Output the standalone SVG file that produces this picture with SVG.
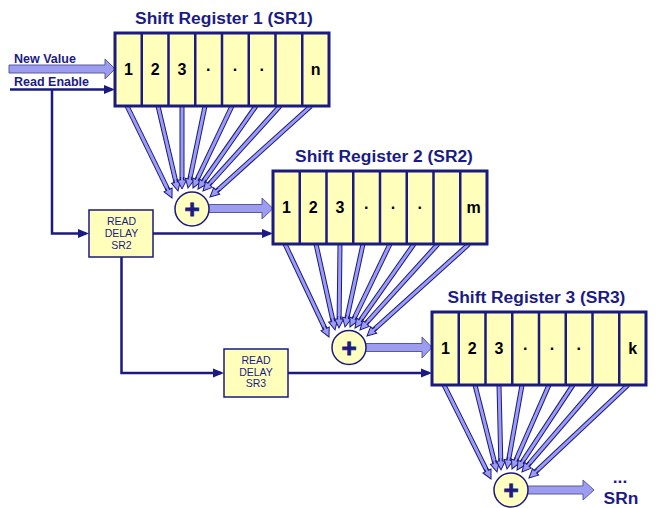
<svg xmlns="http://www.w3.org/2000/svg" xmlns:xlink="http://www.w3.org/1999/xlink" width="664" height="508" viewBox="0 0 664 508">
<defs>
<style>
.reg{fill:#ffffbb;stroke:#1a1a80;stroke-width:3}
.div{fill:none;stroke:#1a1a80;stroke-width:2.5}
.num{font-family:"Liberation Sans",Arial,sans-serif;font-weight:bold;font-size:16px;fill:#000;text-anchor:middle}
.title{font-family:"Liberation Sans",Arial,sans-serif;font-weight:bold;font-size:17.4px;fill:#1b1b87;text-anchor:middle}
.lbl{font-family:"Liberation Sans",Arial,sans-serif;font-weight:bold;font-size:12.5px;fill:#1b1b87}
.dl{font-family:"Liberation Sans",Arial,sans-serif;font-size:10.5px;fill:#1b1b87;text-anchor:middle}
.dbox{fill:#ffffbb;stroke:#1a1a80;stroke-width:1.5}
.wire{fill:none;stroke:#1a1a80;stroke-width:2.5;marker-end:url(#ah)}
.fo{stroke:#1a1a80;stroke-width:5;stroke-dasharray:94 100}
.fi{stroke:#9c9cf0;stroke-width:3;stroke-dasharray:94 100;marker-end:url(#fh)}
.fat{fill:#9c9cf0;stroke:#5a5a9a;stroke-width:1}
.sum{fill:#ffffc0;stroke:#1a1a80;stroke-width:1.5}
.plus{font-family:"Liberation Sans",Arial,sans-serif;font-weight:bold;font-size:26px;fill:#1a1a80;stroke:#1a1a80;stroke-width:0.8;text-anchor:middle}
</style>
<marker id="ah" markerUnits="userSpaceOnUse" orient="auto" refX="0" refY="0" markerWidth="1" markerHeight="1" overflow="visible">
<path d="M3,0 L-8,-4.5 L-8,4.5 Z" fill="#1a1a80"/>
</marker>
<marker id="fh" markerUnits="userSpaceOnUse" orient="auto" refX="0" refY="0" markerWidth="1" markerHeight="1" overflow="visible">
<path d="M-12,1.5 L-9,1.5 L-9,4.5 L0,0 L-9,-4.5 L-9,-1.5 L-12,-1.5" fill="#9c9cf0" stroke="#1a1a80" stroke-width="1"/>
</marker>
<line id="a11" x1="127" y1="106" x2="172" y2="198" pathLength="100"/>
<line id="a12" x1="158" y1="106" x2="178" y2="191" pathLength="100"/>
<line id="a13" x1="182" y1="106" x2="182" y2="189" pathLength="100"/>
<line id="a14" x1="205" y1="106" x2="188" y2="188" pathLength="100"/>
<line id="a15" x1="232" y1="106" x2="193" y2="188" pathLength="100"/>
<line id="a16" x1="256" y1="106" x2="198" y2="189" pathLength="100"/>
<line id="a17" x1="280" y1="106" x2="203" y2="191" pathLength="100"/>
<line id="a18" x1="311" y1="106" x2="210" y2="197" pathLength="100"/>
<line id="a21" x1="285" y1="244" x2="329" y2="337" pathLength="100"/>
<line id="a22" x1="316" y1="244" x2="335" y2="330" pathLength="100"/>
<line id="a23" x1="340" y1="244" x2="339" y2="328" pathLength="100"/>
<line id="a24" x1="363" y1="244" x2="345" y2="327" pathLength="100"/>
<line id="a25" x1="390" y1="244" x2="350" y2="327" pathLength="100"/>
<line id="a26" x1="414" y1="244" x2="355" y2="328" pathLength="100"/>
<line id="a27" x1="438" y1="244" x2="360" y2="330" pathLength="100"/>
<line id="a28" x1="469" y1="244" x2="367" y2="336" pathLength="100"/>
<line id="a31" x1="444" y1="385" x2="491" y2="479" pathLength="100"/>
<line id="a32" x1="475" y1="385" x2="497" y2="472" pathLength="100"/>
<line id="a33" x1="499" y1="385" x2="501" y2="470" pathLength="100"/>
<line id="a34" x1="522" y1="385" x2="507" y2="469" pathLength="100"/>
<line id="a35" x1="549" y1="385" x2="512" y2="469" pathLength="100"/>
<line id="a36" x1="573" y1="385" x2="517" y2="470" pathLength="100"/>
<line id="a37" x1="597" y1="385" x2="522" y2="472" pathLength="100"/>
<line id="a38" x1="628" y1="385" x2="529" y2="478" pathLength="100"/>
</defs>
<rect width="664" height="508" fill="#ffffff"/>

<g id="connectors">
<polygon class="fat" points="9,65 105,65 105,59 115,69 105,79 105,73 9,73"/>
<text class="lbl" x="14" y="63">New Value</text>
<text class="lbl" x="14" y="86">Read Enable</text>
<line class="wire" x1="10" y1="89.5" x2="112" y2="89.5"/>
<polyline class="wire" points="52,89.5 52,233.5 86,233.5"/>
<line class="wire" x1="153" y1="233.5" x2="270" y2="233.5"/>
<polyline class="wire" points="121.5,257 121.5,373 221,373"/>
<line class="wire" x1="288" y1="373" x2="429" y2="373"/>
<polygon class="fat" points="207,204.5 262,204.5 262,198 273,208.5 262,219 262,212.5 207,212.5"/>
<polygon class="fat" points="364,343.5 422,343.5 422,337 432,347.5 422,358 422,351.5 364,351.5"/>
<polygon class="fat" points="526,486 583,486 583,480 594,490 583,500 583,494 526,494"/>
<g id="fan1">
<use xlink:href="#a11" class="fo"/><use xlink:href="#a12" class="fo"/><use xlink:href="#a13" class="fo"/><use xlink:href="#a14" class="fo"/>
<use xlink:href="#a15" class="fo"/><use xlink:href="#a16" class="fo"/><use xlink:href="#a17" class="fo"/><use xlink:href="#a18" class="fo"/>
<use xlink:href="#a11" class="fi"/><use xlink:href="#a12" class="fi"/><use xlink:href="#a13" class="fi"/><use xlink:href="#a14" class="fi"/>
<use xlink:href="#a15" class="fi"/><use xlink:href="#a16" class="fi"/><use xlink:href="#a17" class="fi"/><use xlink:href="#a18" class="fi"/>
</g>
<g id="fan2">
<use xlink:href="#a21" class="fo"/><use xlink:href="#a22" class="fo"/><use xlink:href="#a23" class="fo"/><use xlink:href="#a24" class="fo"/>
<use xlink:href="#a25" class="fo"/><use xlink:href="#a26" class="fo"/><use xlink:href="#a27" class="fo"/><use xlink:href="#a28" class="fo"/>
<use xlink:href="#a21" class="fi"/><use xlink:href="#a22" class="fi"/><use xlink:href="#a23" class="fi"/><use xlink:href="#a24" class="fi"/>
<use xlink:href="#a25" class="fi"/><use xlink:href="#a26" class="fi"/><use xlink:href="#a27" class="fi"/><use xlink:href="#a28" class="fi"/>
</g>
<g id="fan3">
<use xlink:href="#a31" class="fo"/><use xlink:href="#a32" class="fo"/><use xlink:href="#a33" class="fo"/><use xlink:href="#a34" class="fo"/>
<use xlink:href="#a35" class="fo"/><use xlink:href="#a36" class="fo"/><use xlink:href="#a37" class="fo"/><use xlink:href="#a38" class="fo"/>
<use xlink:href="#a31" class="fi"/><use xlink:href="#a32" class="fi"/><use xlink:href="#a33" class="fi"/><use xlink:href="#a34" class="fi"/>
<use xlink:href="#a35" class="fi"/><use xlink:href="#a36" class="fi"/><use xlink:href="#a37" class="fi"/><use xlink:href="#a38" class="fi"/>
</g>
</g>

<g id="sr1" transform="translate(115,33)">
<text class="title" x="109" y="-9">Shift Register 1 (SR1)</text>
<rect class="reg" x="0" y="0" width="214" height="73"/>
<path class="div" d="M26.75,0V73M53.5,0V73M80.25,0V73M107,0V73M133.75,0V73M160.5,0V73M187.25,0V73"/>
<text class="num" x="13.4" y="42">1</text><text class="num" x="40.1" y="42">2</text><text class="num" x="66.9" y="42">3</text>
<text class="num" x="93.6" y="42">·</text><text class="num" x="120.4" y="42">·</text><text class="num" x="147.1" y="42">·</text>
<text class="num" x="200.6" y="42">n</text>
</g>
<g id="sr2" transform="translate(273,171)">
<text class="title" x="111" y="-9">Shift Register 2 (SR2)</text>
<rect class="reg" x="0" y="0" width="214" height="73"/>
<path class="div" d="M26.75,0V73M53.5,0V73M80.25,0V73M107,0V73M133.75,0V73M160.5,0V73M187.25,0V73"/>
<text class="num" x="13.4" y="42">1</text><text class="num" x="40.1" y="42">2</text><text class="num" x="66.9" y="42">3</text>
<text class="num" x="93.6" y="42">·</text><text class="num" x="120.4" y="42">·</text><text class="num" x="147.1" y="42">·</text>
<text class="num" x="200.6" y="42">m</text>
</g>
<g id="sr3" transform="translate(432,312)">
<text class="title" x="104.5" y="-9">Shift Register 3 (SR3)</text>
<rect class="reg" x="0" y="0" width="214" height="73"/>
<path class="div" d="M26.75,0V73M53.5,0V73M80.25,0V73M107,0V73M133.75,0V73M160.5,0V73M187.25,0V73"/>
<text class="num" x="13.4" y="42">1</text><text class="num" x="40.1" y="42">2</text><text class="num" x="66.9" y="42">3</text>
<text class="num" x="93.6" y="42">·</text><text class="num" x="120.4" y="42">·</text><text class="num" x="147.1" y="42">·</text>
<text class="num" x="200.6" y="42">k</text>
</g>

<g id="delay2">
<rect class="dbox" x="89" y="210" width="64" height="47"/>
<text class="dl" x="121.5" y="225">READ</text>
<text class="dl" x="121.5" y="237">DELAY</text>
<text class="dl" x="121.5" y="249">SR2</text>
</g>
<g id="delay3">
<rect class="dbox" x="224" y="349" width="64" height="48"/>
<text class="dl" x="256" y="364">READ</text>
<text class="dl" x="256" y="376">DELAY</text>
<text class="dl" x="256" y="387">SR3</text>
</g>

<g id="sum1"><circle class="sum" cx="192" cy="209" r="17"/><text class="plus" x="192" y="218">+</text></g>
<g id="sum2"><circle class="sum" cx="349" cy="347.5" r="17"/><text class="plus" x="349" y="356.5">+</text></g>
<g id="sum3"><circle class="sum" cx="511" cy="490" r="17"/><text class="plus" x="511" y="499">+</text></g>

<g id="srn">
<text class="title" x="620" y="483">...</text>
<text class="title" x="621" y="504">SRn</text>
</g>
</svg>
